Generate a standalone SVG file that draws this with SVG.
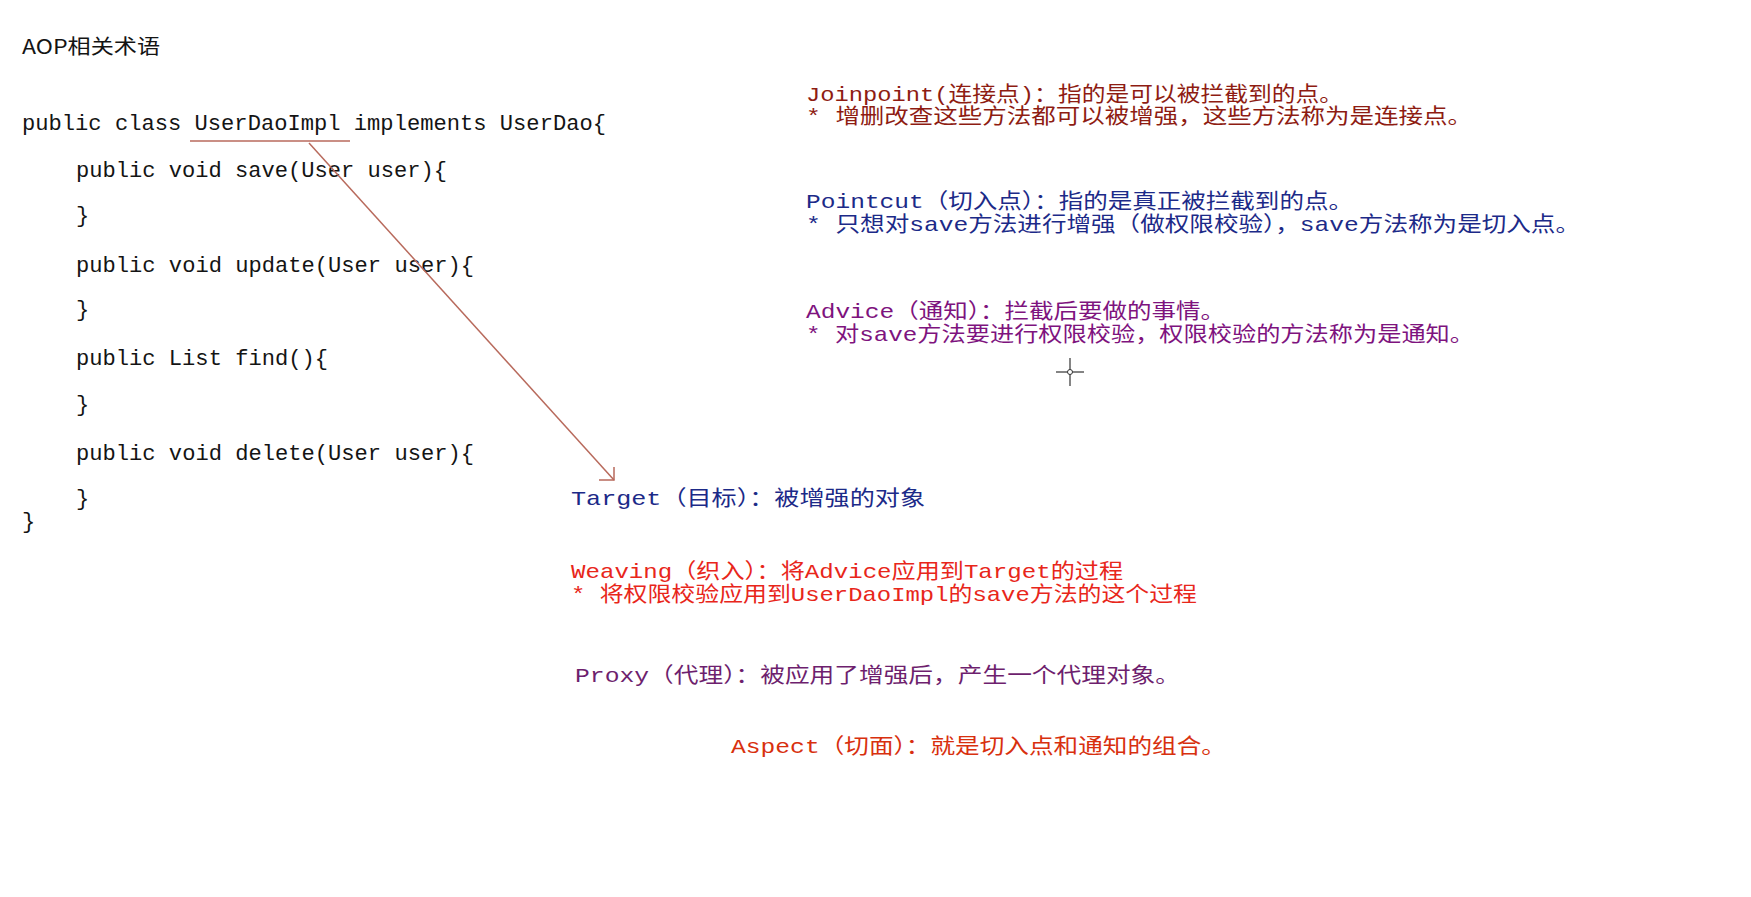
<svg xmlns="http://www.w3.org/2000/svg" width="1751" height="897" viewBox="0 0 1751 897">
<style>
text{font-family:"Liberation Mono","Noto Sans CJK SC",monospace;}
.code{font-size:22px;fill:#141414;}
.t{font-size:21px;}
.jp{fill:#8e1c12;}
.pc{fill:#1c2a88;}
.ad{fill:#7e137e;}
.tg{fill:#1c2a88;}
.wv{fill:#e8261a;}
.px{fill:#6e1f6e;}
.as{fill:#d8300e;}
.ln{stroke:#b86a5c;stroke-width:1.5;fill:none;}
</style>
<rect width="1751" height="897" fill="#ffffff"/>
<g id="title"><text x="22" y="54" font-size="20" fill="#141414" textLength="138" lengthAdjust="spacingAndGlyphs" style="font-family:'Noto Sans CJK SC',sans-serif">AOP相关术语</text></g>
<g id="code">
<text class="code" x="22" y="130" textLength="584" lengthAdjust="spacingAndGlyphs">public class UserDaoImpl implements UserDao{</text>
<text class="code" x="76" y="177" textLength="371" lengthAdjust="spacingAndGlyphs">public void save(User user){</text>
<text class="code" x="76" y="222">}</text>
<text class="code" x="76" y="272" textLength="398" lengthAdjust="spacingAndGlyphs">public void update(User user){</text>
<text class="code" x="76" y="316">}</text>
<text class="code" x="76" y="365" textLength="252" lengthAdjust="spacingAndGlyphs">public List find(){</text>
<text class="code" x="76" y="411">}</text>
<text class="code" x="76" y="460" textLength="398" lengthAdjust="spacingAndGlyphs">public void delete(User user){</text>
<text class="code" x="76" y="505">}</text>
<text class="code" x="22" y="528">}</text>
</g>
<g id="connectors">
<line class="ln" x1="190" y1="141" x2="350" y2="141"/>
<line class="ln" x1="309" y1="143" x2="614" y2="480"/>
<polyline class="ln" points="614,467 614,480 599,480"/>
</g>
<g id="joinpoint">
<text class="t jp" x="806" y="101" textLength="537" lengthAdjust="spacingAndGlyphs">Joinpoint(连接点)：指的是可以被拦截到的点。</text>
<text class="t jp" x="806" y="123" textLength="666" lengthAdjust="spacingAndGlyphs">* 增删改查这些方法都可以被增强，这些方法称为是连接点。</text>
</g>
<g id="pointcut">
<text class="t pc" x="806" y="208" textLength="547" lengthAdjust="spacingAndGlyphs">Pointcut（切入点）：指的是真正被拦截到的点。</text>
<text class="t pc" x="806" y="231" textLength="774" lengthAdjust="spacingAndGlyphs">* 只想对save方法进行增强（做权限校验），save方法称为是切入点。</text>
</g>
<g id="advice">
<text class="t ad" x="806" y="318" textLength="419" lengthAdjust="spacingAndGlyphs">Advice（通知）：拦截后要做的事情。</text>
<text class="t ad" x="806" y="341" textLength="668" lengthAdjust="spacingAndGlyphs">* 对save方法要进行权限校验，权限校验的方法称为是通知。</text>
</g>
<g id="cursor">
<line x1="1070" y1="358" x2="1070" y2="386" stroke="#333" stroke-width="1.2"/>
<line x1="1056" y1="372" x2="1084" y2="372" stroke="#333" stroke-width="1.2"/>
<circle cx="1070" cy="372" r="2.5" fill="#fff" stroke="#333" stroke-width="1"/>
</g>
<g id="target">
<text class="t tg" x="571" y="505" textLength="354" lengthAdjust="spacingAndGlyphs">Target（目标）：被增强的对象</text>
</g>
<g id="weaving">
<text class="t wv" x="571" y="578" textLength="552" lengthAdjust="spacingAndGlyphs">Weaving（织入）：将Advice应用到Target的过程</text>
<text class="t wv" x="571" y="601" textLength="626" lengthAdjust="spacingAndGlyphs">* 将权限校验应用到UserDaoImpl的save方法的这个过程</text>
</g>
<g id="proxy">
<text class="t px" x="575" y="682" textLength="605" lengthAdjust="spacingAndGlyphs">Proxy（代理）：被应用了增强后，产生一个代理对象。</text>
</g>
<g id="aspect">
<text class="t as" x="731" y="753" textLength="495" lengthAdjust="spacingAndGlyphs">Aspect（切面）：就是切入点和通知的组合。</text>
</g>
</svg>
